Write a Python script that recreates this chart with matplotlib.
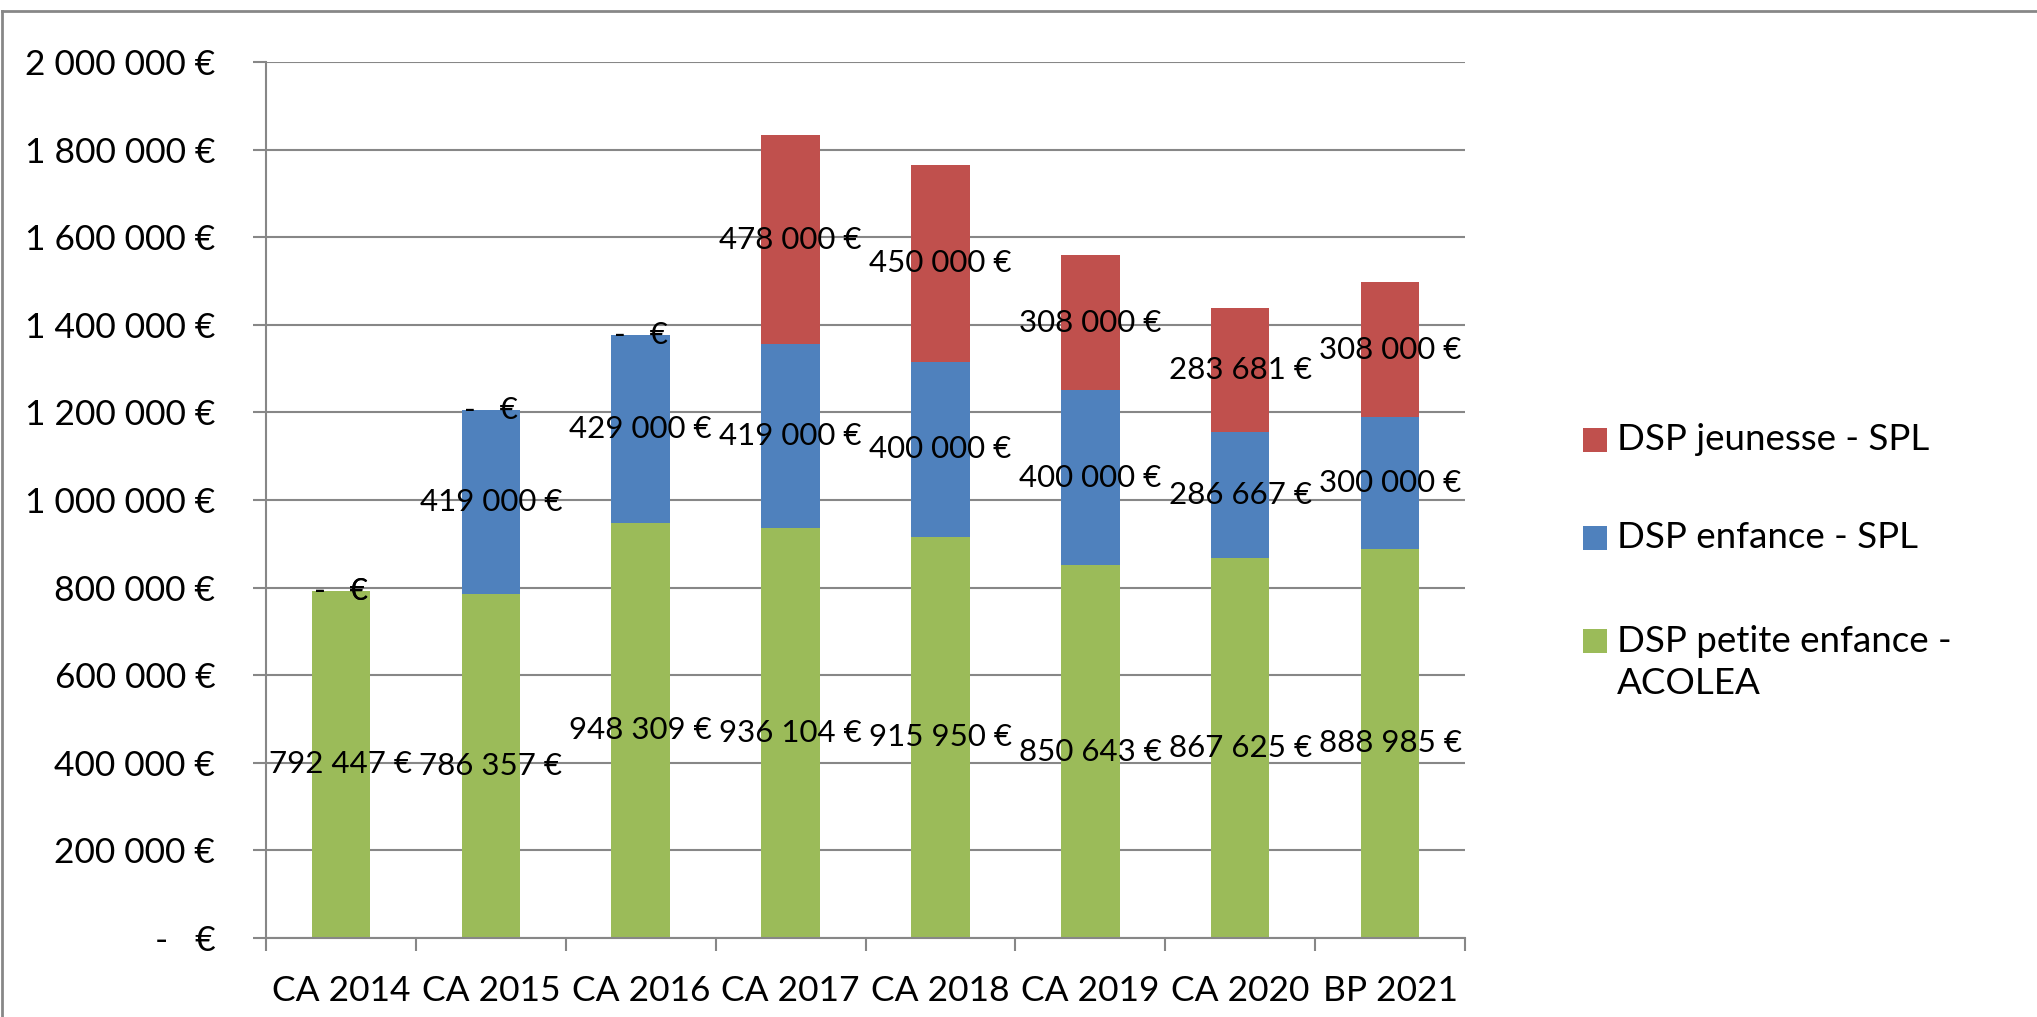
import matplotlib.pyplot as plt
from matplotlib.patches import Rectangle
from matplotlib.lines import Line2D
from matplotlib.ticker import FuncFormatter, FixedLocator
import numpy as np

plt.rcParams['font.family'] = ['Lato', 'DejaVu Sans']

categories = ["CA 2014", "CA 2015", "CA 2016", "CA 2017", "CA 2018", "CA 2019", "CA 2020", "BP 2021"]
petite_enfance = [792447, 786357, 948309, 936104, 915950, 850643, 867625, 888985]
enfance = [0, 419000, 429000, 419000, 400000, 400000, 286667, 300000]
jeunesse = [0, 0, 0, 478000, 450000, 308000, 283681, 308000]

series = [petite_enfance, enfance, jeunesse]
series_names = ["DSP petite enfance -\nACOLEA", "DSP enfance - SPL", "DSP jeunesse - SPL"]
colors = ["#9BBB59", "#4F81BD", "#C0504D"]
grey = "#878787"


def euro(v, pos=None):
    if v == 0:
        return "-   €"
    return f"{v:,.0f}".replace(",", " ") + " €"


fig = plt.figure(figsize=(20.37, 10.17), dpi=100)
ax = fig.add_axes([0.1306, 0.0777, 0.5886, 0.8613])

x = np.arange(len(categories))
bottom = np.zeros(len(categories))
for vals, name, col in zip(series, series_names, colors):
    bars = ax.bar(x, vals, width=0.39, bottom=bottom, color=col, label=name, zorder=2)
    ax.bar_label(bars, labels=[euro(v) for v in vals], label_type='center',
                 fontsize=22.5, color='black', zorder=3)
    bottom += np.array(vals)

ax.set_xlim(-0.5, len(categories) - 0.5)
ax.set_ylim(0, 2000000)
ax.yaxis.set_major_locator(FixedLocator(np.arange(0, 2000001, 200000)))
ax.yaxis.set_major_formatter(FuncFormatter(euro))
ax.grid(axis='y', color=grey, linewidth=1.5, zorder=0)
ax.set_axisbelow(True)

ax.set_xticks(x)
ax.set_xticklabels(categories)
ax.set_xticks(np.arange(-0.5, len(categories)), minor=True)
ax.tick_params(axis='x', which='major', length=0, pad=27, labelsize=25.5)
ax.tick_params(axis='x', which='minor', length=9.5, width=1.5, color=grey)
ax.tick_params(axis='y', length=9.5, width=1.5, color=grey, pad=27, labelsize=25.5)

for s in ['top', 'right']:
    ax.spines[s].set_visible(False)
for s in ['left', 'bottom']:
    ax.spines[s].set_color(grey)
    ax.spines[s].set_linewidth(1.5)

# legend drawn by hand so the two-line label sits like the original
W, H = 2037, 1017
sq = 24
line_gap = 43
entries = list(zip(series_names, colors))[::-1]
centers = [440, 538, 641]
for (name, col), cy in zip(entries, centers):
    fig.add_artist(Rectangle(((1583) / W, 1 - (cy + sq / 2) / H), sq / W, sq / H,
                             facecolor=col, edgecolor='none', transform=fig.transFigure))
    for k, line in enumerate(name.split("\n")):
        fig.text(1617 / W, 1 - (cy + k * line_gap) / H, line, fontsize=26.5,
                 va='center', ha='left')

# outer chart border (left and top visible)
fig.add_artist(Line2D([1.5 / W, 1.5 / W], [0, 1 - 11 / H], color=grey, linewidth=2,
                      transform=fig.transFigure))
fig.add_artist(Line2D([1.5 / W, 1], [1 - 11 / H, 1 - 11 / H], color=grey, linewidth=2,
                      transform=fig.transFigure))

fig.savefig("out.png", dpi=100, facecolor='white')
